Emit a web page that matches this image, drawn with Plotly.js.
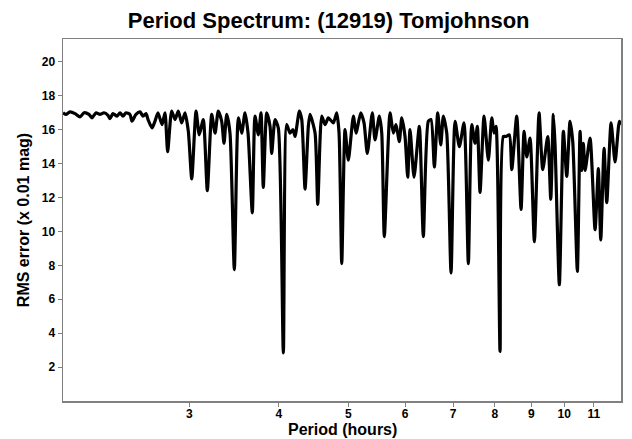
<!DOCTYPE html>
<html>
<head>
<meta charset="utf-8">
<script src="https://cdn.plot.ly/plotly-3.0.1.min.js"></script>
<style>html,body{margin:0;padding:0;background:#fff}#chart{width:632px;height:439px}</style>
</head>
<body>
<div id="chart"></div>
<script>
var periods = [2.000,2.019,2.045,2.079,2.112,2.140,2.174,2.195,2.224,2.252,2.281,2.311,2.326,2.348,2.379,2.402,2.425,2.448,2.480,2.496,2.528,2.561,2.586,2.611,2.628,2.662,2.687,2.713,2.749,2.775,2.799,2.835,2.866,2.896,2.928,2.959,2.991,3.024,3.066,3.098,3.138,3.179,3.224,3.259,3.293,3.329,3.354,3.383,3.419,3.467,3.512,3.550,3.588,3.623,3.673,3.705,3.745,3.777,3.805,3.847,3.888,3.909,3.951,3.993,4.058,4.102,4.146,4.186,4.213,4.272,4.305,4.351,4.397,4.421,4.493,4.532,4.590,4.639,4.689,4.764,4.817,4.853,4.895,4.947,5.000,5.081,5.125,5.203,5.258,5.314,5.400,5.447,5.523,5.566,5.612,5.716,5.777,5.827,5.889,5.935,5.998,6.050,6.095,6.174,6.280,6.361,6.464,6.520,6.590,6.662,6.727,6.783,6.858,6.953,7.043,7.141,7.249,7.350,7.431,7.510,7.566,7.632,7.730,7.838,7.924,7.983,8.034,8.138,8.225,8.296,8.385,8.450,8.586,8.706,8.790,8.867,8.961,9.086,9.224,9.334,9.485,9.577,9.657,9.710,9.845,9.973,10.082,10.189,10.278,10.431,10.522,10.580,10.634,10.692,10.865,11.041,11.159,11.245,11.365,11.464,11.623,11.774,11.937,12.000];
var rmsError = [17.0,16.9,17.05,16.95,16.75,17.0,16.9,16.7,17.0,16.9,17.0,16.85,16.65,16.95,16.8,17.0,16.8,17.0,16.9,16.5,16.9,17.05,16.8,16.95,16.6,16.1,16.5,17.0,16.3,17.0,14.7,17.1,16.6,17.1,16.4,17.0,15.9,13.1,17.1,15.7,16.6,12.4,16.9,15.8,17.1,16.5,15.2,16.9,15.8,7.75,16.7,15.8,17.0,15.8,11.1,16.8,15.7,17.0,12.6,17.0,16.2,14.6,16.6,16.1,2.83,16.3,15.8,16.0,15.6,17.1,16.6,12.5,16.2,16.9,15.8,11.6,16.8,16.3,16.7,16.4,17.0,15.8,8.1,16.0,14.2,16.8,15.8,17.0,16.4,14.6,17.0,15.4,16.8,15.8,9.7,17.0,15.8,16.3,15.3,16.7,15.6,13.2,16.0,13.2,16.2,9.7,16.5,16.6,13.8,17.0,15.1,16.8,15.8,7.55,16.5,15.0,16.4,8.1,16.3,15.2,16.2,12.3,16.8,14.2,16.7,15.8,16.2,2.92,15.6,15.6,15.7,13.65,16.8,11.3,15.9,14.4,15.5,9.4,17.0,13.65,15.6,11.9,16.9,15.1,6.86,15.9,13.25,16.5,15.3,7.65,15.9,13.6,15.2,13.6,15.5,10.1,13.7,9.5,14.9,11.7,16.4,14.1,16.5,16.3];
var xTickVals = [3,4,5,6,7,8,9,10,11];
var yTickVals = [2,4,6,8,10,12,14,16,18,20];

var fontFam = '"Liberation Sans", Arial, sans-serif';
var trace = {
  x: periods, y: rmsError, type: 'scatter', mode: 'lines',
  line: {color: '#000000', width: 3.2, shape: 'spline', smoothing: 0.6}, hoverinfo: 'skip'
};
var layout = {
  width: 632, height: 439,
  margin: {l: 63, r: 11, t: 39, b: 38},
  paper_bgcolor: '#ffffff', plot_bgcolor: '#ffffff',
  showlegend: false,
  font: {family: fontFam, color: '#000000'},
  title: {text: 'Period Spectrum: (12919) Tomjohnson', x: 0.52, xref: 'container', xanchor: 'center', y: 0.953, yref: 'container', yanchor: 'middle',
          font: {family: fontFam, size: 22, weight: 700, color: '#000000'}},
  xaxis: {
    type: 'log', range: [Math.log10(2), Math.log10(12)],
    tickmode: 'array', tickvals: xTickVals, ticktext: xTickVals.map(String),
    ticks: 'outside', ticklen: 4, tickcolor: '#808080', tickwidth: 1, ticklabelstandoff: -3,
    showline: true, linecolor: '#808080', linewidth: 1.5, mirror: true,
    showgrid: false, zeroline: false,
    tickfont: {family: fontFam, size: 12, weight: 700, color: '#000000'}
  },
  yaxis: {
    range: [0, 21.35],
    tickmode: 'array', tickvals: yTickVals, ticktext: yTickVals.map(String),
    ticks: 'outside', ticklen: 4, tickcolor: '#808080', tickwidth: 1,
    showline: true, linecolor: '#808080', linewidth: 1.5, mirror: true,
    showgrid: false, zeroline: false,
    tickfont: {family: fontFam, size: 12, weight: 700, color: '#000000'},
    title: {text: 'RMS error (x 0.01 mag)', standoff: 8, font: {family: fontFam, size: 16, weight: 700, color: '#000000'}}
  },
  annotations: [{
    text: 'Period (hours)', xref: 'paper', yref: 'paper', x: 0.5, y: -0.08,
    xanchor: 'center', yanchor: 'middle', showarrow: false, borderpad: 0,
    font: {family: fontFam, size: 16, weight: 700, color: '#000000'}
  }]
};
Plotly.newPlot('chart', [trace], layout, {displayModeBar: false, staticPlot: true});
</script>
</body>
</html>
